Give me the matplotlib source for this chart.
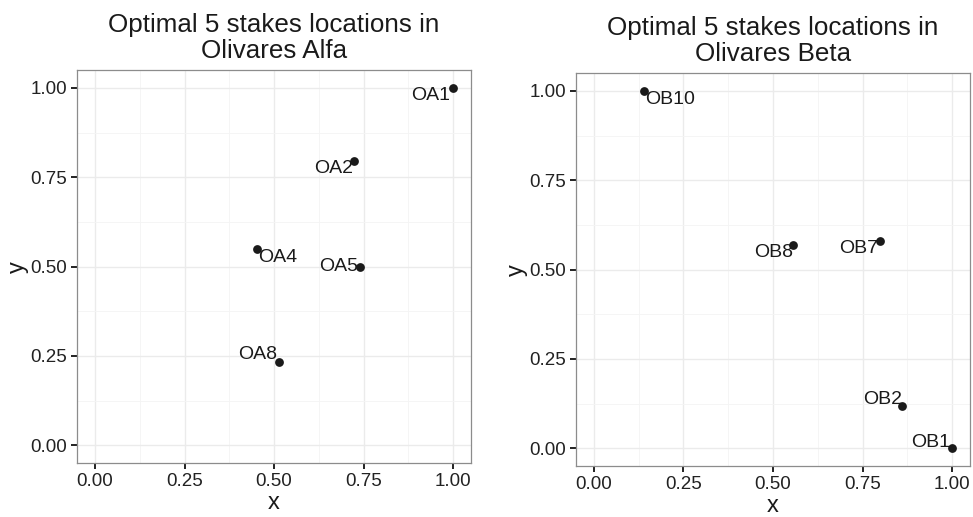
import matplotlib
matplotlib.use("Agg")
import matplotlib.pyplot as plt
from matplotlib.ticker import MultipleLocator

plt.rcParams["font.family"] = ["Liberation Sans", "DejaVu Sans"]

# stake locations, normalised coordinates
alfa_names = ["OA1", "OA2", "OA4", "OA5", "OA8"]
alfa_x = [1.0, 0.724, 0.453, 0.740, 0.514]
alfa_y = [1.0, 0.796, 0.550, 0.500, 0.233]

beta_names = ["OB10", "OB8", "OB7", "OB2", "OB1"]
beta_x = [0.139, 0.555, 0.799, 0.860, 1.0]
beta_y = [1.0, 0.569, 0.580, 0.118, 0.0]

ticks = [0.0, 0.25, 0.5, 0.75, 1.0]
tick_labels = ["0.00", "0.25", "0.50", "0.75", "1.00"]

# label placement (pixel offset from the point, horizontal alignment)
alfa_offsets = [((-3, -8), "right"), ((-1, -8), "right"), ((1, -9), "left"),
                ((-2, 0), "right"), ((-2, 7), "right")]
beta_offsets = [((1, -9), "left"), ((0, -8), "right"), ((-2, -8), "right"),
                ((0, 7), "right"), ((-2, 6), "right")]

fig = plt.figure(figsize=(9.73, 5.17), dpi=100)
ax1 = fig.add_axes([0.0792, 0.1044, 0.405, 0.760])
ax2 = fig.add_axes([0.592, 0.0986, 0.405, 0.760])


def panel(ax, xs, ys, names, offsets, title):
    ax.set_xlim(-0.05, 1.05)
    ax.set_ylim(-0.05, 1.05)
    ax.xaxis.set_minor_locator(MultipleLocator(0.125))
    ax.yaxis.set_minor_locator(MultipleLocator(0.125))
    ax.set_xticks(ticks, tick_labels)
    ax.set_yticks(ticks, tick_labels)
    ax.grid(which="major", color="#EBEBEB", lw=1.0)
    ax.grid(which="minor", color="#F4F4F4", lw=0.6)
    ax.set_axisbelow(True)
    for s in ax.spines.values():
        s.set_color("#8C8C8C")
        s.set_linewidth(0.9)
    ax.tick_params(which="major", length=4.3, width=1.4, color="#222222",
                   labelsize=13.5, labelcolor="#222222", pad=3)
    ax.tick_params(which="minor", length=0)
    ax.scatter(xs, ys, s=40, color="#1a1a1a", zorder=3, linewidths=0)
    for x, y, name, (off, ha) in zip(xs, ys, names, offsets):
        ax.annotate(name, (x, y), xytext=off, textcoords="offset pixels",
                    ha=ha, va="center", fontsize=14, color="#1a1a1a")
    ax.set_xlabel("x", fontsize=17, labelpad=1, color="#1a1a1a")
    ax.set_ylabel("y", fontsize=17, labelpad=1, color="#1a1a1a")
    ax.set_title(title, fontsize=18.7, pad=9, color="#1a1a1a", linespacing=1.1)


panel(ax1, alfa_x, alfa_y, alfa_names, alfa_offsets,
      "Optimal 5 stakes locations in\nOlivares Alfa")
panel(ax2, beta_x, beta_y, beta_names, beta_offsets,
      "Optimal 5 stakes locations in\nOlivares Beta")

fig.savefig("out.png", dpi=100)
